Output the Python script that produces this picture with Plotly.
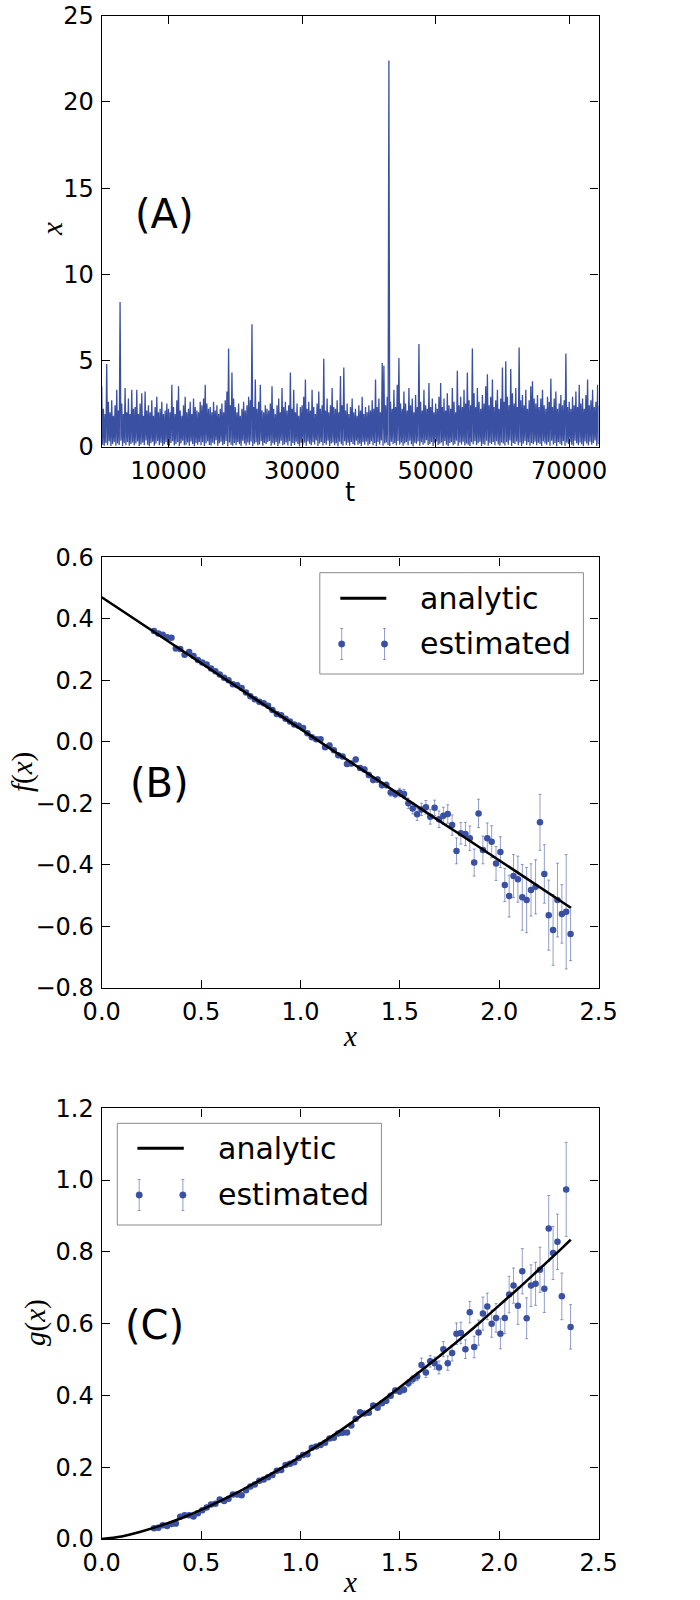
import plotly.graph_objects as go

# ---------------- Panel A : time series x(t) ----------------
t_step = 250
x_high = [
    3.5, 2.2, 1.9, 4.8, 2.6, 2.0, 2.7, 1.8, 2.4, 3.3, 2.1, 8.4, 2.5, 1.9, 3.4, 2.0, 2.8, 1.9, 3.3, 2.2,
    2.3, 3.3, 1.9, 2.5, 3.1, 1.8, 3.2, 2.1, 2.4, 2.0, 2.7, 1.8, 2.3, 2.9, 2.0, 2.2, 2.6, 1.9, 2.1, 2.5,
    2.2, 2.0, 3.6, 2.3, 1.9, 2.7, 3.5, 2.1, 1.8, 2.4, 2.9, 2.0, 2.2, 2.6, 1.9, 2.8, 2.3, 2.1, 2.0, 2.6,
    2.4, 2.8, 3.6, 2.5, 2.2, 2.3, 2.0, 2.6, 2.1, 2.4, 1.9, 2.2, 2.5, 2.0, 2.7, 3.2, 5.7, 2.4, 4.3, 2.8,
    2.3, 2.0, 2.5, 1.8, 2.2, 2.6, 2.1, 2.4, 2.9, 2.7, 7.1, 2.3, 3.9, 2.2, 2.6, 3.6, 2.1, 2.0, 2.4, 2.2,
    2.1, 2.5, 3.5, 2.2, 1.9, 2.4, 2.8, 2.0, 3.4, 2.3, 2.6, 2.1, 2.4, 4.3, 2.2, 3.3, 2.0, 2.5, 1.8, 2.3,
    2.4, 2.9, 3.9, 2.2, 2.6, 2.1, 3.3, 2.3, 1.9, 2.5, 3.2, 2.2, 2.4, 5.1, 2.1, 2.8, 2.0, 2.4, 3.4, 2.3,
    2.2, 2.7, 2.0, 4.1, 2.4, 4.6, 2.1, 2.5, 1.9, 2.3, 2.8, 2.0, 2.2, 1.8, 2.4, 2.1, 2.9, 1.9, 2.3, 2.0,
    2.4, 2.1, 2.7, 2.2, 3.9, 2.3, 2.8, 2.0, 4.85, 4.7, 2.4, 2.9, 22.4, 2.6, 2.2, 3.3, 2.3, 3.6, 5.15, 2.5,
    2.2, 3.2, 2.5, 2.1, 3.4, 2.4, 2.8, 2.0, 3.0, 2.3, 5.95, 2.6, 2.1, 3.3, 2.4, 2.2, 3.7, 2.3, 2.8, 2.0,
    2.5, 2.2, 2.9, 3.7, 2.3, 2.8, 2.1, 3.1, 2.4, 2.2, 3.4, 2.6, 2.0, 4.4, 2.4, 2.9, 2.3, 3.3, 2.5, 4.3,
    2.7, 2.4, 5.7, 3.1, 2.3, 3.4, 2.6, 2.2, 3.0, 2.5, 3.5, 4.2, 2.4, 2.9, 3.9, 2.3, 2.7, 3.3, 2.2, 2.8,
    4.6, 2.6, 4.95, 2.9, 2.4, 4.5, 3.1, 2.5, 3.4, 2.3, 5.75, 2.7, 3.0, 2.4, 3.3, 2.2, 2.7, 3.5, 3.8, 2.8,
    2.5, 3.0, 2.3, 2.8, 3.3, 2.4, 2.2, 2.9, 2.6, 3.95, 2.3, 2.8, 3.2, 2.2, 2.5, 3.0, 2.4, 2.7, 5.4, 2.3,
    2.6, 2.2, 2.9, 2.4, 3.2, 2.3, 3.6, 2.5, 2.8, 2.2, 3.0, 3.9, 2.4, 2.7, 3.3, 2.3, 2.6, 3.6, 2.4, 2.8,
]
x_low = [
    0.12, 0.05, 0.22, 0.08, 0.31, 0.04, 0.15, 0.27, 0.06, 0.19, 0.10, 0.34, 0.03, 0.21, 0.09, 0.28, 0.05, 0.16, 0.24, 0.07,
    0.18, 0.30, 0.04, 0.13, 0.25, 0.08, 0.36, 0.11, 0.02, 0.20, 0.29, 0.06, 0.17, 0.33, 0.09, 0.23, 0.04, 0.14, 0.26, 0.10,
    0.05, 0.21, 0.32, 0.07, 0.16, 0.27, 0.03, 0.19, 0.35, 0.08, 0.12, 0.24, 0.06, 0.30, 0.15, 0.02, 0.22, 0.11, 0.28, 0.09,
    0.26, 0.04, 0.18, 0.31, 0.10, 0.07, 0.23, 0.14, 0.37, 0.05, 0.20, 0.29, 0.08, 0.16, 0.33, 0.03, 0.25, 0.12, 0.06, 0.21,
    0.09, 0.28, 0.15, 0.04, 0.34, 0.19, 0.07, 0.24, 0.11, 0.30, 0.02, 0.17, 0.26, 0.08, 0.13, 0.32, 0.05, 0.22, 0.16, 0.27,
    0.33, 0.06, 0.20, 0.12, 0.27, 0.03, 0.18, 0.35, 0.09, 0.14, 0.25, 0.07, 0.31, 0.04, 0.21, 0.10, 0.29, 0.15, 0.02, 0.23,
    0.11, 0.24, 0.05, 0.30, 0.17, 0.08, 0.26, 0.13, 0.36, 0.04, 0.19, 0.28, 0.07, 0.22, 0.12, 0.34, 0.03, 0.18, 0.25, 0.09,
    0.20, 0.02, 0.29, 0.14, 0.06, 0.32, 0.10, 0.23, 0.05, 0.27, 0.15, 0.08, 0.35, 0.12, 0.19, 0.04, 0.26, 0.11, 0.30, 0.07,
    0.16, 0.31, 0.08, 0.22, 0.03, 0.27, 0.13, 0.36, 0.06, 0.18, 0.25, 0.10, 0.04, 0.29, 0.15, 0.21, 0.07, 0.33, 0.12, 0.24,
    0.05, 0.19, 0.28, 0.09, 0.34, 0.14, 0.02, 0.23, 0.17, 0.31, 0.06, 0.26, 0.11, 0.20, 0.37, 0.08, 0.15, 0.27, 0.04, 0.22,
    0.30, 0.10, 0.17, 0.25, 0.06, 0.33, 0.12, 0.03, 0.21, 0.28, 0.09, 0.16, 0.35, 0.05, 0.24, 0.13, 0.29, 0.07, 0.19, 0.11,
    0.04, 0.26, 0.14, 0.32, 0.08, 0.20, 0.29, 0.02, 0.17, 0.11, 0.34, 0.06, 0.23, 0.15, 0.27, 0.09, 0.31, 0.13, 0.05, 0.25,
    0.18, 0.07, 0.28, 0.12, 0.36, 0.04, 0.21, 0.15, 0.30, 0.09, 0.24, 0.03, 0.19, 0.33, 0.10, 0.26, 0.06, 0.22, 0.14, 0.29,
    0.08, 0.23, 0.16, 0.04, 0.31, 0.19, 0.11, 0.27, 0.06, 0.35, 0.13, 0.21, 0.02, 0.28, 0.17, 0.09, 0.32, 0.05, 0.24, 0.15,
    0.27, 0.12, 0.05, 0.34, 0.20, 0.08, 0.25, 0.14, 0.03, 0.30, 0.18, 0.07, 0.29, 0.11, 0.22, 0.36, 0.04, 0.16, 0.26, 0.10,
]
a_xticks = [10000, 30000, 50000, 70000]
a_yticks = [0, 5, 10, 15, 20, 25]

# ---------------- Panels B and C : estimated drift/diffusion ----------------
bin_x = [
    0.263, 0.285, 0.307, 0.329, 0.351, 0.373, 0.395, 0.417, 0.440, 0.462,
    0.484, 0.506, 0.528, 0.550, 0.572, 0.594, 0.616, 0.638, 0.660, 0.682,
    0.704, 0.726, 0.748, 0.770, 0.793, 0.815, 0.837, 0.859, 0.881, 0.903,
    0.925, 0.947, 0.969, 0.991, 1.013, 1.035, 1.057, 1.079, 1.101, 1.124,
    1.146, 1.168, 1.190, 1.212, 1.234, 1.256, 1.278, 1.300, 1.322, 1.344,
    1.366, 1.388, 1.410, 1.432, 1.454, 1.477, 1.499, 1.521, 1.543, 1.565,
    1.587, 1.609, 1.631, 1.653, 1.675, 1.697, 1.719, 1.741, 1.763, 1.785,
    1.807, 1.830, 1.852, 1.874, 1.896, 1.918, 1.940, 1.962, 1.984, 2.006,
    2.028, 2.050, 2.072, 2.094, 2.116, 2.138, 2.160, 2.183, 2.205, 2.227,
    2.249, 2.271, 2.293, 2.315, 2.337, 2.359,
]
f_est = [
    0.360, 0.352, 0.348, 0.340, 0.338, 0.303, 0.302, 0.283, 0.292, 0.279,
    0.266, 0.258, 0.251, 0.238, 0.229, 0.219, 0.208, 0.200, 0.187, 0.184,
    0.175, 0.160, 0.148, 0.138, 0.130, 0.125, 0.117, 0.103, 0.090, 0.086,
    0.075, 0.066, 0.056, 0.052, 0.045, 0.028, 0.015, 0.008, 0.008, -0.018,
    -0.012, -0.028, -0.044, -0.048, -0.072, -0.071, -0.058, -0.085, -0.090, -0.108,
    -0.124, -0.123, -0.141, -0.141, -0.165, -0.170, -0.165, -0.170, -0.200, -0.217,
    -0.236, -0.220, -0.213, -0.244, -0.215, -0.252, -0.241, -0.235, -0.271, -0.355,
    -0.298, -0.300, -0.314, -0.393, -0.233, -0.352, -0.314, -0.325, -0.396, -0.359,
    -0.466, -0.502, -0.437, -0.447, -0.506, -0.515, -0.482, -0.472, -0.262, -0.430,
    -0.564, -0.612, -0.515, -0.560, -0.553, -0.625,
]
f_err = [
    0.003, 0.003, 0.003, 0.003, 0.003, 0.003, 0.003, 0.003, 0.003, 0.003,
    0.003, 0.003, 0.003, 0.003, 0.004, 0.004, 0.004, 0.004, 0.004, 0.004,
    0.004, 0.004, 0.004, 0.004, 0.004, 0.005, 0.005, 0.005, 0.005, 0.005,
    0.005, 0.005, 0.005, 0.005, 0.006, 0.006, 0.006, 0.006, 0.006, 0.006,
    0.007, 0.007, 0.007, 0.007, 0.007, 0.008, 0.008, 0.008, 0.008, 0.009,
    0.009, 0.009, 0.010, 0.010, 0.012, 0.012, 0.014, 0.015, 0.017, 0.018,
    0.020, 0.020, 0.022, 0.024, 0.025, 0.027, 0.028, 0.030, 0.033, 0.042,
    0.035, 0.038, 0.040, 0.044, 0.046, 0.045, 0.050, 0.052, 0.055, 0.050,
    0.054, 0.068, 0.070, 0.075, 0.107, 0.106, 0.085, 0.088, 0.091, 0.095,
    0.114, 0.115, 0.120, 0.095, 0.186, 0.087,
]
g_est = [
    0.030, 0.031, 0.038, 0.036, 0.042, 0.043, 0.062, 0.066, 0.066, 0.063,
    0.072, 0.080, 0.088, 0.096, 0.098, 0.110, 0.106, 0.112, 0.124, 0.124,
    0.122, 0.136, 0.146, 0.152, 0.162, 0.166, 0.172, 0.178, 0.190, 0.192,
    0.206, 0.210, 0.214, 0.226, 0.234, 0.236, 0.254, 0.258, 0.262, 0.268,
    0.280, 0.282, 0.294, 0.296, 0.297, 0.316, 0.335, 0.353, 0.350, 0.352,
    0.372, 0.366, 0.378, 0.385, 0.399, 0.414, 0.411, 0.416, 0.434, 0.445,
    0.453, 0.485, 0.464, 0.495, 0.490, 0.478, 0.529, 0.490, 0.518, 0.572,
    0.574, 0.529, 0.632, 0.535, 0.575, 0.628, 0.648, 0.600, 0.616, 0.572,
    0.616, 0.681, 0.706, 0.650, 0.746, 0.615, 0.706, 0.711, 0.750, 0.697,
    0.865, 0.797, 0.828, 0.676, 0.974, 0.591,
]
g_err = [
    0.003, 0.003, 0.003, 0.003, 0.003, 0.003, 0.003, 0.003, 0.003, 0.003,
    0.003, 0.003, 0.003, 0.003, 0.003, 0.003, 0.003, 0.003, 0.004, 0.004,
    0.004, 0.004, 0.004, 0.004, 0.004, 0.004, 0.004, 0.004, 0.004, 0.004,
    0.004, 0.004, 0.004, 0.005, 0.005, 0.005, 0.005, 0.005, 0.005, 0.005,
    0.005, 0.005, 0.005, 0.005, 0.005, 0.005, 0.005, 0.005, 0.005, 0.005,
    0.005, 0.005, 0.006, 0.006, 0.006, 0.007, 0.008, 0.009, 0.010, 0.011,
    0.012, 0.019, 0.014, 0.016, 0.017, 0.018, 0.021, 0.020, 0.022, 0.030,
    0.030, 0.026, 0.030, 0.030, 0.035, 0.046, 0.037, 0.038, 0.040, 0.042,
    0.044, 0.051, 0.049, 0.052, 0.063, 0.057, 0.058, 0.060, 0.063, 0.066,
    0.092, 0.074, 0.077, 0.065, 0.131, 0.062,
]
line_x = [0.0, 0.1, 0.2, 0.3, 0.4, 0.5, 0.6, 0.7, 0.8, 0.9, 1.0, 1.1, 1.2,
          1.3, 1.4, 1.5, 1.6, 1.7, 1.8, 1.9, 2.0, 2.1, 2.2, 2.3, 2.36]
f_analytic = [0.470, 0.427, 0.384, 0.342, 0.299, 0.256, 0.213, 0.170, 0.128,
              0.085, 0.042, -0.001, -0.044, -0.086, -0.129, -0.172, -0.215,
              -0.258, -0.300, -0.343, -0.386, -0.429, -0.472, -0.514, -0.540]
g_analytic = [0.000, 0.007, 0.021, 0.038, 0.058, 0.081, 0.107, 0.135, 0.165,
              0.196, 0.230, 0.265, 0.302, 0.341, 0.381, 0.423, 0.466, 0.510,
              0.555, 0.602, 0.651, 0.700, 0.751, 0.802, 0.834]
bc_xticks = [0.0, 0.5, 1.0, 1.5, 2.0, 2.5]
b_yticks = [-0.8, -0.6, -0.4, -0.2, 0.0, 0.2, 0.4, 0.6]
c_yticks = [0.0, 0.2, 0.4, 0.6, 0.8, 1.0, 1.2]

# ---------------- build series for panel A ----------------
t_vals, x_vals = [], []
for k, (hi, lo) in enumerate(zip(x_high, x_low)):
    t_vals += [k * t_step, k * t_step + t_step / 2]
    x_vals += [hi, lo]

BLUE = "#3a50a2"
ERR = "rgba(58,80,162,0.55)"
W, H = 700, 1600


def pxx(v):
    return v / W


def pxy(v):
    return 1 - v / H


fig = go.Figure()

fig.add_trace(go.Scatter(x=t_vals, y=x_vals, mode="lines",
                         line=dict(color=BLUE, width=1.3, simplify=False),
                         xaxis="x", yaxis="y", showlegend=False, hoverinfo="skip"))

fig.add_trace(go.Scatter(x=bin_x, y=f_est, mode="markers",
                         marker=dict(color=BLUE, size=6.5),
                         error_y=dict(type="data", array=f_err, color=ERR,
                                      thickness=1, width=1.5),
                         xaxis="x2", yaxis="y2", showlegend=False))
fig.add_trace(go.Scatter(x=line_x, y=f_analytic, mode="lines",
                         line=dict(color="black", width=2.6),
                         xaxis="x2", yaxis="y2", showlegend=False))

fig.add_trace(go.Scatter(x=bin_x, y=g_est, mode="markers",
                         marker=dict(color=BLUE, size=6.5),
                         error_y=dict(type="data", array=g_err, color=ERR,
                                      thickness=1, width=1.5),
                         xaxis="x3", yaxis="y3", showlegend=False))
fig.add_trace(go.Scatter(x=line_x, y=g_analytic, mode="lines",
                         line=dict(color="black", width=2.6, shape="spline"),
                         xaxis="x3", yaxis="y3", showlegend=False))

tickfont = dict(family="DejaVu Sans", size=24, color="black")
axis_common = dict(showline=True, linecolor="black", linewidth=1.4, mirror="ticks",
                   ticks="inside", ticklen=8, tickwidth=1.2, tickcolor="black",
                   showgrid=False, zeroline=False, tickfont=tickfont, automargin=False)

xdom = [101.7 / W, 598.6 / W]
fig.update_layout(
    template="none",
    width=W, height=H, margin=dict(l=0, r=0, t=0, b=0, autoexpand=False),
    paper_bgcolor="white", plot_bgcolor="white",
    xaxis=dict(domain=xdom, anchor="y", range=[0, 74400], tickvals=a_xticks,
               ticktext=[str(v) for v in a_xticks], ticklabelstandoff=2, **axis_common),
    yaxis=dict(domain=[pxy(446.7), pxy(15.7)], anchor="x", range=[0, 25],
               tickvals=a_yticks, ticktext=[str(v) for v in a_yticks],
               ticklabelstandoff=2, **axis_common),
    xaxis2=dict(domain=xdom, anchor="y2", range=[0, 2.5], tickvals=bc_xticks,
                ticktext=["%.1f" % v for v in bc_xticks], ticklabelstandoff=2, **axis_common),
    yaxis2=dict(domain=[pxy(987.7), pxy(557.3)], anchor="x2", range=[-0.8, 0.6],
                tickvals=b_yticks, ticktext=[("%.1f" % v).replace("-", "\u2212") for v in b_yticks],
                ticklabelstandoff=2, **axis_common),
    xaxis3=dict(domain=xdom, anchor="y3", range=[0, 2.5], tickvals=bc_xticks,
                ticktext=["%.1f" % v for v in bc_xticks], ticklabelstandoff=2, **axis_common),
    yaxis3=dict(domain=[pxy(1539.0), pxy(1108.3)], anchor="x3", range=[0, 1.2],
                tickvals=c_yticks, ticktext=["%.1f" % v for v in c_yticks],
                ticklabelstandoff=2, **axis_common),
)

annotations = []
shapes = []

# panel letters
big = dict(family="DejaVu Sans", size=40, color="black")
mid = dict(showarrow=False, xanchor="center", yanchor="middle")
annotations += [
    dict(x=9460, y=13.5, xref="x", yref="y", text="(A)", font=big, **mid),
    dict(x=0.291, y=-0.134, xref="x2", yref="y2", text="(B)", font=big, **mid),
    dict(x=0.268, y=0.597, xref="x3", yref="y3", text="(C)", font=big, **mid),
]

# axis labels
serif = dict(family="Liberation Serif", size=29, color="black")
annotations += [
    dict(x=pxx(350), y=pxy(492), xref="paper", yref="paper", text="t",
         font=dict(family="DejaVu Sans", size=26, color="black"), **mid),
    dict(x=pxx(52), y=pxy(229), xref="paper", yref="paper", text="<i>x</i>",
         font=serif, textangle=-90, **mid),
    dict(x=pxx(350), y=pxy(1036), xref="paper", yref="paper", text="<i>x</i>",
         font=serif, **mid),
    dict(x=pxx(23), y=pxy(772), xref="paper", yref="paper", text="<i>f</i>(<i>x</i>)",
         font=serif, textangle=-90, **mid),
    dict(x=pxx(350), y=pxy(1599.5), xref="paper", yref="paper", text="<i>x</i>",
         font=serif, showarrow=False, xanchor="center", yanchor="bottom"),
    dict(x=pxx(35), y=pxy(1323), xref="paper", yref="paper", text="<i>g</i>(<i>x</i>)",
         font=serif, textangle=-90, **mid),
]


def add_legend(box, line_seg, line_y, mk_x, mk_y, err_half, text_x, t1_y, t2_y):
    x0, x1, y0, y1 = box
    shapes.append(dict(type="rect", xref="paper", yref="paper", layer="above",
                       x0=pxx(x0), x1=pxx(x1), y0=pxy(y1), y1=pxy(y0),
                       line=dict(color="#8a8a8a", width=1), fillcolor="white"))
    shapes.append(dict(type="line", xref="paper", yref="paper", layer="above",
                       x0=pxx(line_seg[0]), x1=pxx(line_seg[1]), y0=pxy(line_y), y1=pxy(line_y),
                       line=dict(color="black", width=3)))
    for mx in mk_x:
        shapes.append(dict(type="line", xref="paper", yref="paper", layer="above",
                           x0=pxx(mx), x1=pxx(mx), y0=pxy(mk_y - err_half), y1=pxy(mk_y + err_half),
                           line=dict(color=ERR, width=1)))
        for cy in (mk_y - err_half, mk_y + err_half):
            shapes.append(dict(type="line", xref="paper", yref="paper", layer="above",
                               x0=pxx(mx - 1.5), x1=pxx(mx + 1.5), y0=pxy(cy), y1=pxy(cy),
                               line=dict(color=ERR, width=1)))
        shapes.append(dict(type="circle", xref="paper", yref="paper", layer="above",
                           x0=pxx(mx - 3.2), x1=pxx(mx + 3.2), y0=pxy(mk_y + 3.2), y1=pxy(mk_y - 3.2),
                           line=dict(color=BLUE, width=0.5), fillcolor=BLUE))
    lf = dict(family="DejaVu Sans", size=30, color="black")
    annotations.append(dict(x=pxx(text_x), y=pxy(t1_y), xref="paper", yref="paper",
                            text="analytic", showarrow=False, xanchor="left",
                            yanchor="middle", font=lf))
    annotations.append(dict(x=pxx(text_x), y=pxy(t2_y), xref="paper", yref="paper",
                            text="estimated", showarrow=False, xanchor="left",
                            yanchor="middle", font=lf))


add_legend((319.8, 583.4, 572.7, 674.0), (340.3, 386.3), 598.3, (341.7, 384.5), 644.0, 15.5,
           418.4, 598.0, 643.0)
add_legend((117.3, 381.4, 1123.3, 1225.0), (137.4, 183.8), 1148.3, (139.2, 182.9), 1195.0, 15.5,
           215.9, 1148.0, 1194.0)

fig.update_layout(annotations=annotations, shapes=shapes)

fig.write_html("out.html",
               config={"displayModeBar": False},
               post_script="document.body.style.margin='0';"
                           "document.body.style.padding='0';"
                           "document.body.style.overflow='hidden';")
